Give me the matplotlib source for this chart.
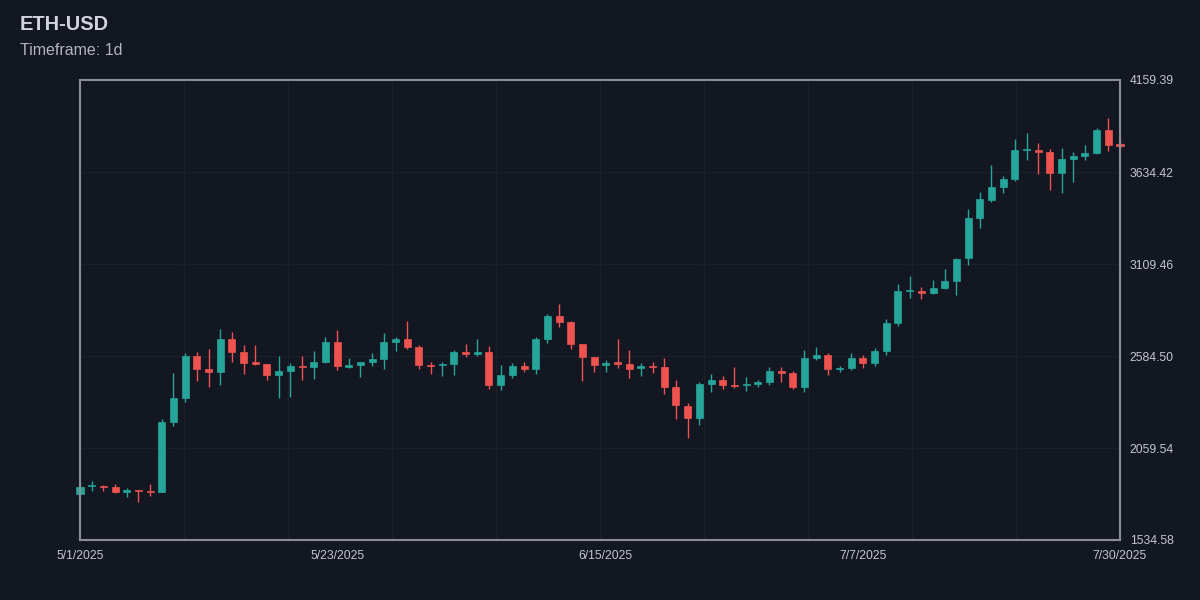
from typing import List

import matplotlib

matplotlib.use("AGG")

import matplotlib.pyplot as plt  # isort:skip

FNAME: str = "out.png"

TITLE: str = "ETH-USD"
SUBTITLE: str = "Timeframe: 1d"

# daily candles, 5/1/2025 onwards
opens: List[float] = [
    1795, 1843, 1844, 1835, 1810, 1820, 1816, 1810, 2206, 2346,
    2584, 2510, 2495, 2681, 2609, 2548, 2537, 2476, 2499, 2529,
    2523, 2552, 2664, 2523, 2533, 2552, 2566, 2664, 2681, 2634,
    2533, 2531, 2537, 2607, 2594, 2607, 2419, 2476, 2527, 2512,
    2681, 2813, 2776, 2651, 2579, 2535, 2548, 2539, 2514, 2529,
    2522, 2408, 2299, 2230, 2422, 2448, 2419, 2417, 2425, 2435,
    2500, 2486, 2408, 2571, 2590, 2510, 2518, 2571, 2545, 2615,
    2772, 2955, 2957, 2944, 2974, 3014, 3142, 3374, 3476, 3549,
    3594, 3760, 3760, 3750, 3630, 3709, 3726, 3743, 3876, 3794,
]
highs: List[float] = [
    1867, 1871, 1850, 1852, 1833, 1821, 1852, 2223, 2489, 2600,
    2606, 2623, 2739, 2721, 2647, 2647, 2540, 2586, 2546, 2586,
    2615, 2691, 2733, 2575, 2553, 2600, 2714, 2691, 2784, 2647,
    2552, 2548, 2617, 2655, 2680, 2642, 2531, 2545, 2548, 2691,
    2824, 2881, 2784, 2652, 2580, 2560, 2681, 2619, 2546, 2548,
    2571, 2448, 2318, 2435, 2482, 2470, 2520, 2463, 2448, 2523,
    2520, 2500, 2619, 2634, 2600, 2529, 2603, 2588, 2628, 2795,
    2995, 3041, 2980, 3018, 3081, 3142, 3423, 3522, 3674, 3610,
    3821, 3859, 3800, 3766, 3773, 3747, 3790, 3884, 3943, 3827,
]
lows: List[float] = [
    1791, 1814, 1814, 1804, 1782, 1752, 1787, 1808, 2185, 2320,
    2442, 2409, 2419, 2550, 2482, 2533, 2447, 2346, 2352, 2448,
    2453, 2546, 2505, 2518, 2466, 2529, 2512, 2613, 2623, 2512,
    2483, 2472, 2478, 2580, 2586, 2398, 2389, 2461, 2495, 2482,
    2660, 2749, 2623, 2443, 2493, 2493, 2516, 2457, 2470, 2489,
    2370, 2223, 2118, 2191, 2381, 2396, 2400, 2386, 2409, 2419,
    2438, 2396, 2381, 2562, 2476, 2491, 2505, 2518, 2527, 2592,
    2758, 2917, 2908, 2938, 2967, 2934, 3104, 3317, 3465, 3513,
    3583, 3705, 3625, 3532, 3515, 3579, 3703, 3735, 3756, 3760,
]
closes: List[float] = [
    1839, 1847, 1835, 1808, 1820, 1814, 1810, 2206, 2346, 2584,
    2510, 2495, 2681, 2609, 2546, 2537, 2476, 2499, 2529, 2523,
    2552, 2664, 2527, 2533, 2552, 2566, 2664, 2681, 2634, 2531,
    2530, 2539, 2607, 2594, 2609, 2419, 2476, 2527, 2512, 2681,
    2813, 2776, 2651, 2580, 2533, 2546, 2540, 2512, 2526, 2523,
    2409, 2303, 2228, 2422, 2448, 2419, 2413, 2425, 2438, 2500,
    2489, 2408, 2571, 2590, 2510, 2518, 2571, 2545, 2615, 2772,
    2955, 2961, 2944, 2972, 3012, 3140, 3372, 3479, 3549, 3594,
    3760, 3766, 3750, 3630, 3709, 3726, 3743, 3876, 3789, 3783,
]

# x axis is candle index, labelled with a few dates
xtick_idx: List[int] = [0, 22, 45, 67, 89]
xtick_labels: List[str] = ["5/1/2025", "5/23/2025", "6/15/2025", "7/7/2025", "7/30/2025"]

ytick_values: List[float] = [1534.58, 2059.54, 2584.50, 3109.46, 3634.42, 4159.39]

BG = "#131722"
UP = "#26a69a"
DOWN = "#ef5350"
GRID = "#1c202c"
SPINE = "#8b8e97"
TEXT = "#c3c6ce"


def plot_candles(ax) -> None:
    for i, (o, h, l, c) in enumerate(zip(opens, highs, lows, closes)):
        color = UP if c >= o else DOWN
        ax.vlines(i, l, h, color=color, linewidth=1.0, zorder=2, clip_on=False)
        # keep dojis visible as a thin bar
        height = max(abs(c - o), 4.0)
        ax.bar(
            i,
            height,
            bottom=min(o, c),
            width=0.6,
            color=color,
            edgecolor=color,
            linewidth=0.5,
            zorder=3,
            clip_on=False,
        )


def main() -> None:
    plt.rcParams["font.family"] = ["Liberation Sans", "DejaVu Sans"]

    fig = plt.figure(figsize=(12, 6), dpi=100, facecolor=BG)
    ax = fig.add_axes([80 / 1200, 60 / 600, 1040 / 1200, 460 / 600])
    ax.set_facecolor(BG)

    ax.set_xlim(0, len(opens) - 1)
    ax.set_ylim(ytick_values[0], ytick_values[-1])

    # vertical grid splits the width in ten, horizontal follows the ticks
    for k in range(1, 10):
        ax.axvline(k / 10 * (len(opens) - 1), color=GRID, linewidth=1.0, zorder=1)
    for v in ytick_values[1:-1]:
        ax.axhline(v, color=GRID, linewidth=1.0, zorder=1)

    plot_candles(ax)

    ax.yaxis.tick_right()
    ax.set_yticks(ytick_values)
    ax.set_yticklabels([f"{v:.2f}" for v in ytick_values])
    ax.set_xticks(xtick_idx)
    ax.set_xticklabels(xtick_labels)
    ax.tick_params(axis="both", length=0, colors=TEXT, labelsize=8.7)
    ax.tick_params(axis="y", pad=7)
    ax.tick_params(axis="x", pad=7)

    for spine in ax.spines.values():
        spine.set_color(SPINE)
        spine.set_linewidth(1.5)
        spine.set_zorder(5)

    fig.text(20 / 1200, 1 - 30 / 600, TITLE, color="#d1d4dc", fontsize=14.4,
             fontweight="bold", va="baseline", ha="left")
    fig.text(20 / 1200, 1 - 55 / 600, SUBTITLE, color="#b2b5be", fontsize=11.5,
             va="baseline", ha="left")

    fig.savefig(FNAME, dpi=100, facecolor=BG)
    plt.close(fig)


if __name__ == "__main__":
    main()
